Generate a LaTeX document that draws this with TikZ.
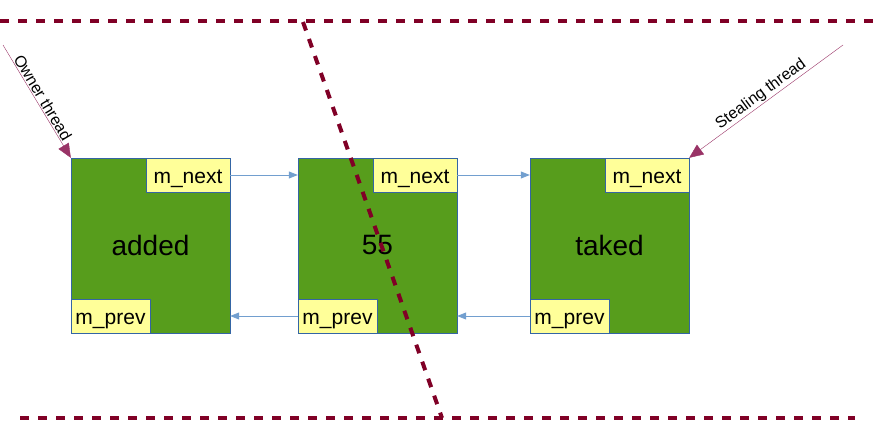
\documentclass[tikz,border=0pt]{standalone}
\usepackage{fontspec}
\setmainfont{Liberation Sans}
\usetikzlibrary{arrows.meta}
\definecolor{cellgreen}{RGB}{87,157,28}
\definecolor{ptryellow}{RGB}{255,255,153}
\definecolor{edgeblue}{RGB}{114,159,207}
\definecolor{borderblue}{RGB}{52,101,164}
\definecolor{threadpink}{RGB}{153,51,102}
\definecolor{cutred}{RGB}{128,0,38}
\begin{document}
\begin{tikzpicture}[x=1pt, y=-1pt,
    cell/.style={draw=borderblue, fill=cellgreen, minimum width=159pt, minimum height=175pt, inner sep=0pt, font=\fontsize{28}{32}\selectfont},
    ptr/.style={draw=borderblue, fill=ptryellow, minimum height=34pt, inner sep=0pt, text height=18pt, text depth=2pt, font=\fontsize{21}{24}\selectfont},
    link/.style={edgeblue, thick, -{Triangle[length=9pt, width=7pt]}},
    thread/.style={threadpink, -{Triangle[length=14pt, width=12pt]}},
    tlabel/.style={sloped, above, inner sep=1pt, text=black, font=\fontsize{16}{18}\selectfont},
    cut/.style={cutred, line width=4pt, dash pattern=on 9pt off 9pt}
]
\useasboundingbox (0,0) rectangle (873,434);

\node[cell] (added) at (150.5,245.5) {added};
\node[cell] (mid) at (377.5,245.5) {55};
\node[cell] (taked) at (609.5,245.5) {taked};

\node[ptr, minimum width=84pt, anchor=north east] (addednext) at (added.north east) {m\_next};
\node[ptr, minimum width=79pt, anchor=south west] (addedprev) at (added.south west) {m\_prev};
\node[ptr, minimum width=84pt, anchor=north east] (midnext) at (mid.north east) {m\_next};
\node[ptr, minimum width=79pt, anchor=south west] (midprev) at (mid.south west) {m\_prev};
\node[ptr, minimum width=84pt, anchor=north east] (takednext) at (taked.north east) {m\_next};
\node[ptr, minimum width=79pt, anchor=south west] (takedprev) at (taked.south west) {m\_prev};

\draw[link] (addednext) -- (addednext -| mid.west);
\draw[link] (midnext) -- (midnext -| taked.west);
\draw[link] (midprev) -- (midprev -| added.east);
\draw[link] (takedprev) -- (takedprev -| mid.east);

\coordinate (owner) at (3,45);
\coordinate (steal) at (843,45);
\draw[thread] (owner) -- node[tlabel] {Owner thread} (added.north west);
\draw[thread] (steal) -- node[tlabel] {Stealing thread} (takednext.north east);

% cut lines
\coordinate (topl) at (0,21);
\coordinate (topr) at (873,21);
\coordinate (botl) at (20,418);
\coordinate (botr) at (855,418);
\coordinate (diaga) at (303,22);
\coordinate (diagb) at (442,418);
\draw[cut] (topl) -- (topr);
\draw[cut] (botl) -- (botr);
\draw[cut] (diaga) -- (diagb);

\end{tikzpicture}
\end{document}
